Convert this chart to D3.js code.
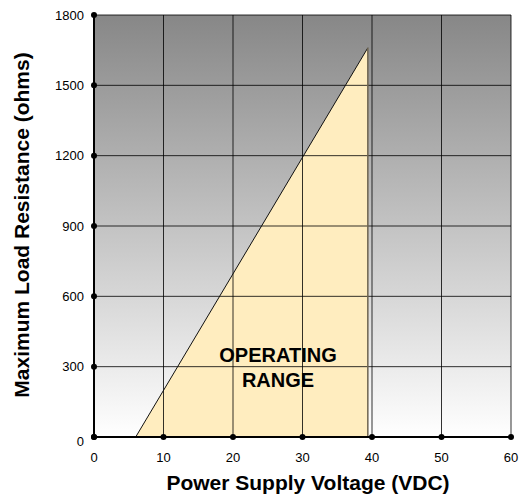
<!DOCTYPE html>
<html>
<head>
<meta charset="utf-8">
<script src="https://cdn.jsdelivr.net/npm/d3@7"></script>
<style>
  html, body { margin: 0; padding: 0; background: #fff; }
  svg { display: block; font-family: Arial, "Liberation Sans", sans-serif; }
</style>
</head>
<body>
<svg id="chart" width="519" height="498"></svg>
<script>
// ---- data ----
const xTicks = [0, 10, 20, 30, 40, 50, 60];
const yTicks = [0, 300, 600, 900, 1200, 1500, 1800];
const rangeVoltage = [6, 39.4, 39.4];     // V (VDC)
const rangeResistance = [0, 1660, 0];     // ohms
const regionLabel = ["OPERATING", "RANGE"];
const xTitle = "Power Supply Voltage (VDC)";
const yTitle = "Maximum Load Resistance (ohms)";

// ---- layout ----
const svg = d3.select("#chart");
const x = d3.scaleLinear().domain([0, 60]).range([94, 511]);
const y = d3.scaleLinear().domain([0, 1800]).range([437, 15]);

const defs = svg.append("defs");
const grad = defs.append("linearGradient").attr("id", "bg")
  .attr("x1", 0).attr("y1", 0).attr("x2", 0).attr("y2", 1);
grad.append("stop").attr("offset", "0%").attr("stop-color", "#878787");
grad.append("stop").attr("offset", "100%").attr("stop-color", "#ffffff");

svg.append("rect")
  .attr("x", x(0)).attr("y", y(1800))
  .attr("width", x(60) - x(0)).attr("height", y(0) - y(1800))
  .attr("fill", "url(#bg)");

// operating range polygon
const pts = rangeVoltage.map((v, i) => [x(v), y(rangeResistance[i])]);
svg.append("path")
  .attr("d", "M" + pts.map(p => p.join(",")).join("L") + "Z")
  .attr("fill", "#ffedbf");

// grid
const g = svg.append("g");
g.selectAll(".vg").data(xTicks.filter(d => d > 0)).enter().append("line")
  .attr("x1", d => x(d)).attr("x2", d => x(d))
  .attr("y1", y(0)).attr("y2", y(1800))
  .attr("stroke", "#000").attr("stroke-opacity", 0.8).attr("stroke-width", 1);
g.selectAll(".hg").data(yTicks.filter(d => d > 0)).enter().append("line")
  .attr("x1", x(0)).attr("x2", x(60))
  .attr("y1", d => y(d)).attr("y2", d => y(d))
  .attr("stroke", "#000").attr("stroke-opacity", 0.8).attr("stroke-width", 1);

// boundary lines of range
svg.append("line")
  .attr("x1", pts[0][0]).attr("y1", pts[0][1])
  .attr("x2", pts[1][0]).attr("y2", pts[1][1])
  .attr("stroke", "#111").attr("stroke-width", 1);
svg.append("line")
  .attr("x1", pts[1][0]).attr("y1", pts[1][1])
  .attr("x2", pts[2][0]).attr("y2", pts[2][1])
  .attr("stroke", "#6e6450").attr("stroke-width", 1.5);

// axes lines
svg.append("line").attr("x1", x(0)).attr("x2", x(0)).attr("y1", y(0)).attr("y2", y(1800))
  .attr("stroke", "#000").attr("stroke-width", 2);
svg.append("line").attr("x1", x(0)).attr("x2", x(60)).attr("y1", y(0)).attr("y2", y(0))
  .attr("stroke", "#000").attr("stroke-width", 2);

// tick dots
svg.selectAll(".yd").data(yTicks).enter().append("circle")
  .attr("cx", x(0)).attr("cy", d => y(d)).attr("r", 3).attr("fill", "#000");
svg.selectAll(".xd").data(xTicks).enter().append("circle")
  .attr("cx", d => x(d)).attr("cy", y(0)).attr("r", 3).attr("fill", "#000");

// tick labels
svg.selectAll(".yl").data(yTicks).enter().append("text")
  .attr("x", 84).attr("y", d => y(d) + (d === 0 ? 4 : 0)).attr("dy", "0.36em")
  .attr("text-anchor", "end").attr("font-size", 13).attr("fill", "#000")
  .text(d => d);
svg.selectAll(".xl").data(xTicks).enter().append("text")
  .attr("x", d => x(d)).attr("y", 462)
  .attr("text-anchor", "middle").attr("font-size", 13).attr("fill", "#000")
  .text(d => d);

// region label
svg.selectAll(".rl").data(regionLabel).enter().append("text")
  .attr("x", 278).attr("y", (d, i) => 362 + i * 25)
  .attr("text-anchor", "middle").attr("font-size", 20).attr("font-weight", "bold")
  .attr("fill", "#000").text(d => d);

// titles
svg.append("text").attr("x", 308).attr("y", 490)
  .attr("text-anchor", "middle").attr("font-size", 21).attr("font-weight", "bold")
  .text(xTitle);
svg.append("text")
  .attr("transform", "translate(29," + 225 + ") rotate(-90)")
  .attr("text-anchor", "middle").attr("font-size", 21).attr("font-weight", "bold")
  .text(yTitle);
</script>
</body>
</html>
